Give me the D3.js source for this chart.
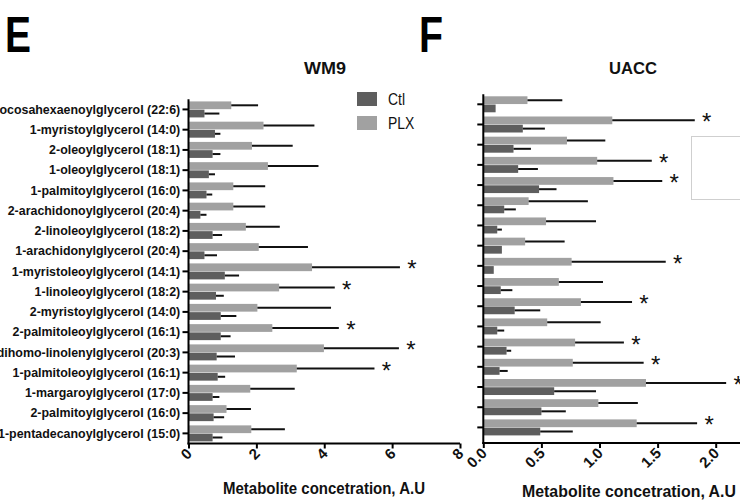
<!DOCTYPE html>
<html>
<head>
<meta charset="utf-8">
<script src="https://cdn.jsdelivr.net/npm/d3@7/dist/d3.min.js"></script>
<style>
  html, body { margin: 0; padding: 0; background: #fff; }
  svg { display: block; font-family: "Liberation Sans", Arial, sans-serif; }
</style>
</head>
<body>
<svg id="chart" width="740" height="502"></svg>
<script>
// ---------- DATA ----------
const categories = [
  "2-docosahexaenoylglycerol (22:6)",
  "1-myristoylglycerol (14:0)",
  "2-oleoylglycerol (18:1)",
  "1-oleoylglycerol (18:1)",
  "1-palmitoylglycerol (16:0)",
  "2-arachidonoylglycerol (20:4)",
  "2-linoleoylglycerol (18:2)",
  "1-arachidonylglycerol (20:4)",
  "1-myristoleoylglycerol (14:1)",
  "1-linoleoylglycerol (18:2)",
  "2-myristoylglycerol (14:0)",
  "2-palmitoleoylglycerol (16:1)",
  "1-dihomo-linolenylglycerol (20:3)",
  "1-palmitoleoylglycerol (16:1)",
  "1-margaroylglycerol (17:0)",
  "2-palmitoylglycerol (16:0)",
  "1-pentadecanoylglycerol (15:0)"
];
const seriesNames = ["Ctl", "PLX"];

// WM9 (panel E)
const wm9PlxMean  = [1.26, 2.21, 1.87, 2.34, 1.32, 1.32, 1.69, 2.07, 3.64, 2.67, 2.03, 2.47, 3.99, 3.19, 1.82, 1.12, 1.85];
const wm9PlxUpper = [2.05, 3.71, 3.07, 3.83, 2.26, 2.26, 2.69, 3.52, 6.23, 4.31, 4.20, 4.43, 6.20, 5.48, 3.13, 1.84, 2.84];
const wm9CtlMean  = [0.47, 0.78, 0.71, 0.60, 0.53, 0.35, 0.71, 0.47, 1.07, 0.81, 0.95, 0.95, 0.83, 0.86, 0.71, 0.74, 0.71];
const wm9CtlUpper = [0.91, 0.94, 0.94, 0.78, 0.70, 0.53, 0.99, 0.84, 1.49, 1.04, 1.41, 1.24, 1.37, 1.08, 0.91, 1.05, 1.00];
const wm9Signif   = [false, false, false, false, false, false, false, false, true, true, false, true, true, true, false, false, false];
const wm9Ticks    = [0, 2, 4, 6, 8];

// UACC (panel F)
const uaccPlxMean  = [0.38, 1.11, 0.72, 0.98, 1.12, 0.39, 0.54, 0.36, 0.76, 0.65, 0.84, 0.55, 0.79, 0.77, 1.40, 0.99, 1.32];
const uaccPlxUpper = [0.68, 1.82, 1.05, 1.45, 1.54, 0.90, 0.97, 0.70, 1.57, 1.03, 1.28, 1.01, 1.21, 1.38, 2.09, 1.33, 1.84];
const uaccCtlMean  = [0.106, 0.34, 0.26, 0.30, 0.48, 0.18, 0.12, 0.16, 0.09, 0.15, 0.27, 0.12, 0.20, 0.14, 0.61, 0.50, 0.49];
const uaccCtlUpper = [0.106, 0.53, 0.41, 0.47, 0.63, 0.28, 0.16, 0.16, 0.09, 0.25, 0.49, 0.18, 0.24, 0.21, 0.97, 0.71, 0.77];
const uaccSignif   = [false, true, false, true, true, false, false, false, true, false, true, false, true, true, true, false, true];
const uaccTicks    = [0, 0.5, 1.0, 1.5, 2.0];

const xLabel = "Metabolite concetration, A.U";

// ---------- STYLE ----------
const colors = { Ctl: "#5e5e5e", PLX: "#a1a1a1" };
const svg = d3.select("#chart");

function makeRows(pm, pu, cm, cu, sig) {
  return categories.map((c, i) => ({
    cat: c,
    bars: [
      { s: "PLX", mean: pm[i], upper: pu[i] },
      { s: "Ctl", mean: cm[i], upper: cu[i] }
    ],
    sig: sig[i],
    plxUpper: pu[i]
  }));
}

function drawPanel(cfg) {
  const g = svg.append("g");
  const x = d3.scaleLinear().domain(cfg.domain).range(cfg.xRange);
  const y = d3.scaleBand().domain(categories).range(cfg.yRange).paddingInner(0).paddingOuter(0);
  const sub = d3.scaleBand().domain(["PLX", "Ctl"]).range([-8, 8]).paddingInner(0.06);
  const rows = makeRows(...cfg.data);

  const rowG = g.selectAll("g.row").data(rows).join("g")
    .attr("class", "row")
    .attr("transform", d => `translate(0,${y(d.cat) + y.bandwidth() / 2})`);

  rowG.selectAll("rect").data(d => d.bars).join("rect")
    .attr("x", x(0))
    .attr("y", b => sub(b.s))
    .attr("width", b => x(b.mean) - x(0))
    .attr("height", sub.bandwidth())
    .attr("fill", b => colors[b.s]);

  rowG.selectAll("line.err").data(d => d.bars.filter(b => b.upper > b.mean)).join("line")
    .attr("class", "err")
    .attr("x1", b => x(b.mean))
    .attr("x2", b => x(b.upper))
    .attr("y1", b => sub(b.s) + sub.bandwidth() / 2)
    .attr("y2", b => sub(b.s) + sub.bandwidth() / 2)
    .attr("stroke", "#111")
    .attr("stroke-width", 2);

  rowG.filter(d => d.sig).append("text")
    .attr("x", d => x(d.plxUpper) + 12)
    .attr("y", sub("PLX") + sub.bandwidth() / 2 + 10)
    .attr("text-anchor", "middle")
    .attr("font-size", 24)
    .attr("fill", "#111")
    .text("*");

  // y axis
  const yAxis = d3.axisLeft(y).tickSize(6).tickPadding(3).tickSizeOuter(0)
    .tickFormat(cfg.showLabels ? (d => d) : "");
  const ya = g.append("g").attr("transform", `translate(${x(0)},0)`).call(yAxis);
  ya.select(".domain").remove();
  ya.selectAll(".tick line").attr("stroke", "#000").attr("stroke-width", 2);
  ya.selectAll(".tick text")
    .attr("transform", "scale(0.92,1)")
    .attr("font-size", 13.5).attr("font-weight", "bold").attr("fill", "#111");
  g.append("line")
    .attr("x1", x(0)).attr("x2", x(0))
    .attr("y1", cfg.yRange[0]).attr("y2", cfg.axisY + 1)
    .attr("stroke", "#000").attr("stroke-width", 2);

  // x axis
  const xAxis = d3.axisBottom(x).tickValues(cfg.ticks).tickSize(5).tickSizeOuter(0)
    .tickFormat(cfg.fmt);
  const xa = g.append("g").attr("transform", `translate(0,${cfg.axisY})`).call(xAxis);
  xa.select(".domain").remove();
  xa.selectAll(".tick line").attr("stroke", "#000").attr("stroke-width", 2);
  xa.selectAll(".tick text")
    .attr("y", 0).attr("dy", 0)
    .attr("transform", "translate(4,11) rotate(-45)")
    .attr("text-anchor", "end")
    .attr("font-size", 15).attr("font-weight", "bold").attr("fill", "#111");
  g.append("line")
    .attr("x1", x(0) - 1).attr("x2", Math.min(x.range()[1], 740))
    .attr("y1", cfg.axisY).attr("y2", cfg.axisY)
    .attr("stroke", "#000").attr("stroke-width", 2);

  // x label
  g.append("text")
    .attr("x", cfg.xLabelX).attr("y", cfg.xLabelY)
    .attr("font-size", 17).attr("font-weight", "bold").attr("fill", "#111")
    .attr("textLength", cfg.xLabelW).attr("lengthAdjust", "spacingAndGlyphs")
    .text(xLabel);

  // title
  g.append("text")
    .attr("x", cfg.titleX).attr("y", 74)
    .attr("font-size", 17).attr("font-weight", "bold").attr("fill", "#111")
    .attr("textLength", cfg.titleW).attr("lengthAdjust", "spacingAndGlyphs")
    .text(cfg.title);

  // panel letter
  g.append("text")
    .attr("x", cfg.letterX).attr("y", 52)
    .attr("font-size", 50).attr("font-weight", "bold").attr("fill", "#000")
    .attr("textLength", cfg.letterW).attr("lengthAdjust", "spacingAndGlyphs")
    .text(cfg.letter);
  return g;
}

drawPanel({
  data: [wm9PlxMean, wm9PlxUpper, wm9CtlMean, wm9CtlUpper, wm9Signif],
  domain: [0, 8], xRange: [188.5, 460], yRange: [99.3, 443.5], axisY: 443.5,
  ticks: wm9Ticks, fmt: d3.format("d"), showLabels: true,
  xLabelX: 223, xLabelY: 494, xLabelW: 202,
  title: "WM9", titleX: 304, titleW: 42,
  letter: "E", letterX: 5, letterW: 26
});

drawPanel({
  data: [uaccPlxMean, uaccPlxUpper, uaccCtlMean, uaccCtlUpper, uaccSignif],
  domain: [0, 2.5], xRange: [483.3, 483.3 + 2.5 * 116.2], yRange: [94.2, 437.5], axisY: 443,
  ticks: uaccTicks, fmt: d3.format(".1f"), showLabels: false,
  xLabelX: 522, xLabelY: 497, xLabelW: 214,
  title: "UACC", titleX: 609, titleW: 48,
  letter: "F", letterX: 419, letterW: 24
});

// Legend (panel E)
const legend = svg.append("g").attr("transform", "translate(357,92)");
const legRows = legend.selectAll("g").data(seriesNames).join("g")
  .attr("transform", (d, i) => `translate(0,${i * 24})`);
legRows.append("rect").attr("width", 20).attr("height", 14).attr("fill", d => colors[d]);
legRows.append("text")
  .attr("transform", "translate(31,12.5) scale(0.82,1)")
  .attr("font-size", 17).attr("fill", "#111")
  .text(d => d);

// Empty legend frame of panel F (cut by the figure edge)
svg.append("rect")
  .attr("x", 691.5).attr("y", 136.5).attr("width", 70).attr("height", 63)
  .attr("fill", "none").attr("stroke", "#cfcfcf").attr("stroke-width", 1);
</script>
</body>
</html>
